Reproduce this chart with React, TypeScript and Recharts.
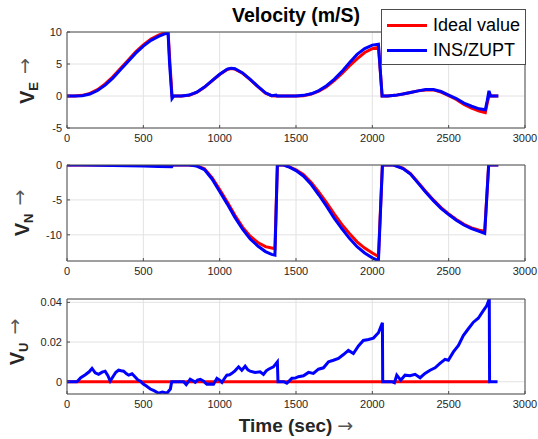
import { CartesianGrid, Legend, Line, LineChart, XAxis, YAxis } from "recharts";

const xTicks = [0, 500, 1000, 1500, 2000, 2500, 3000];
const seriesNames = ["Ideal value", "INS/ZUPT"];
const seriesColors = ["#ff0000", "#0000ff"];

// V_E (m/s)
const veTime = [
  0, 50, 100, 150, 200, 250, 300, 350, 400, 450, 500, 550, 600, 640, 662, 672, 688, 700,
  750, 800, 850, 900, 950, 1000, 1050, 1075, 1100, 1150, 1200, 1250, 1300, 1340, 1370, 1376, 1382,
  1450, 1500, 1550, 1600, 1650, 1700, 1750, 1800, 1850, 1900, 1950, 2000, 2040, 2052, 2064,
  2100, 2150, 2200, 2250, 2300, 2350, 2400, 2450, 2500, 2550, 2600, 2650, 2700, 2740, 2752, 2764, 2775, 2825,
];
const veIdeal = [
  0, 0, 0.1, 0.4, 1.0, 1.9, 3.0, 4.3, 5.6, 6.9, 8.0, 8.9, 9.5, 9.9, 10.1, 6.0, 0, 0,
  0, 0.12, 0.55, 1.35, 2.35, 3.35, 4.15, 4.3, 4.2, 3.55, 2.55, 1.45, 0.45, 0.05, 0, 0, 0,
  0, 0, 0.05, 0.3, 0.75, 1.45, 2.4, 3.5, 4.7, 5.8, 6.8, 7.4, 7.6, 4.0, 0,
  0, 0.1, 0.3, 0.55, 0.8, 0.95, 0.95, 0.6, 0.05, -0.55, -1.3, -1.9, -2.35, -2.6, -1.2, 0, 0, 0,
];
const veIns = [
  0, 0, 0.05, 0.3, 0.85, 1.7, 2.8, 4.1, 5.4, 6.7, 7.8, 8.7, 9.3, 9.7, 9.85, 5.0, -0.4, 0,
  0, 0.15, 0.6, 1.4, 2.4, 3.4, 4.2, 4.35, 4.25, 3.6, 2.6, 1.5, 0.5, 0.05, 0.15, 0, 0,
  0, 0, 0.1, 0.35, 0.85, 1.6, 2.6, 3.8, 5.2, 6.5, 7.4, 7.95, 8.1, 4.0, 0,
  0, 0.1, 0.3, 0.55, 0.8, 1.0, 1.0, 0.7, 0.15, -0.4, -1.1, -1.6, -2.0, -2.15, -0.8, 0.8, 0, 0,
];

// V_N (m/s)
const vnTime = [
  0, 100, 200, 300, 400, 500, 600, 686, 692, 750, 800, 850, 900, 950, 1000, 1050, 1100, 1150,
  1200, 1250, 1300, 1340, 1362, 1378, 1420, 1450, 1500, 1550, 1600, 1650, 1700, 1750, 1800,
  1850, 1900, 1950, 2000, 2040, 2066, 2140, 2200, 2250, 2300, 2350, 2400, 2450, 2500, 2550,
  2600, 2650, 2700, 2736, 2762, 2825,
];
const vnIdeal = [
  0, 0, 0, 0, 0, 0, 0, 0, 0, 0, 0, -0.1, -0.55, -1.8, -3.5, -5.3, -7.2, -8.9,
  -10.2, -11.1, -11.7, -11.9, -12.0, 0, 0, -0.2, -0.7, -1.4, -2.5, -3.9, -5.4, -7.0, -8.5,
  -9.8, -11.0, -11.9, -12.6, -13.1, 0, 0, -0.45, -1.25, -2.5, -3.8, -5.0, -6.1, -7.0, -7.8,
  -8.5, -9.0, -9.35, -9.5, 0, 0,
];
const vnIns = [
  0, 0, -0.05, -0.08, -0.1, -0.15, -0.2, -0.25, 0, 0, 0, -0.15, -0.65, -2.0, -3.8, -5.6, -7.5, -9.2,
  -10.6, -11.6, -12.4, -12.8, -12.9, 0, 0, -0.25, -0.8, -1.6, -2.8, -4.3, -5.9, -7.6, -9.1,
  -10.5, -11.7, -12.6, -13.3, -13.7, 0, 0, -0.5, -1.3, -2.6, -3.9, -5.1, -6.2, -7.1, -7.9,
  -8.6, -9.1, -9.5, -9.8, 0, 0,
];

// V_U (m/s)
const vuTime = [
  0, 65, 90, 120, 145, 164, 185, 207, 230, 250, 268, 283, 305, 320, 338, 355, 371, 390, 404, 426,
  445, 465, 480, 500, 520, 546, 570, 600, 625, 655, 677, 686, 764, 781, 807, 825, 840, 855, 873,
  895, 916, 940, 960, 982, 1000, 1015, 1030, 1047, 1065, 1080, 1100, 1124, 1145, 1167, 1185,
  1200, 1232, 1265, 1287, 1305, 1320, 1352, 1378, 1382, 1420, 1440, 1473, 1495, 1516, 1549,
  1582, 1614, 1647, 1680, 1713, 1745, 1778, 1811, 1843, 1876, 1909, 1941, 1975, 2007, 2040,
  2066, 2068, 2127, 2145, 2160, 2186, 2214, 2247, 2280, 2313, 2345, 2378, 2411, 2443, 2476,
  2498, 2531, 2564, 2596, 2629, 2662, 2694, 2727, 2749, 2766, 2768, 2820,
];
const vuIns = [
  0, 0, 0.002, 0.0035, 0.005, 0.0067, 0.0045, 0.0037, 0.0048, 0.0053, 0.003, 0.0003, 0.003,
  0.0048, 0.0058, 0.0055, 0.0053, 0.004, 0.0033, 0.004, 0.0025, 0.0008, 0.0003, -0.0012,
  -0.0022, -0.0037, -0.0045, -0.0058, -0.0052, -0.0058, -0.0037, 0, 0, -0.0015, 0.0013,
  0.0005, -0.0003, 0.0008, 0.0012, 0.0002, -0.0013, -0.0012, -0.0013, 0.0017, 0.0008,
  -0.0003, 0.0015, 0.0033, 0.0035, 0.0042, 0.0055, 0.0075, 0.0058, 0.0078, 0.006, 0.0053,
  0.0047, 0.005, 0.0037, 0.0055, 0.0063, 0.0075, 0.01, 0, 0, -0.0008, 0.0017, 0.0018,
  0.0025, 0.003, 0.0047, 0.0042, 0.0063, 0.007, 0.01, 0.0108, 0.0117, 0.0137, 0.0158,
  0.0142, 0.018, 0.0208, 0.0213, 0.022, 0.0247, 0.0297, 0, 0, -0.0005, 0.0033, 0.0008,
  0.0033, 0.003, 0.0037, 0.002, 0.0042, 0.0058, 0.007, 0.0092, 0.0113, 0.0108, 0.015,
  0.0183, 0.0233, 0.0267, 0.03, 0.032, 0.0358, 0.0383, 0.0417, 0, 0,
];
const vuIdealTime = [0, 2768];
const vuIdeal = [0, 0];

const font = "'Liberation Sans', Arial, Helvetica, sans-serif";
const arrowFont = "'DejaVu Sans', sans-serif";
const axisColor = "#4d4d4d";

function zip(ts: number[], vs: number[]) {
  return ts.map((t, i) => ({ t, v: vs[i] }));
}

type PanelProps = {
  top: number;
  height: number;
  marginTop: number;
  marginBottom: number;
  yDomain: [number, number];
  yTicks: number[];
  ideal: { t: number; v: number }[];
  ins: { t: number; v: number }[];
  legend?: boolean;
};

function LegendBox({ payload }: any) {
  const items = [...(payload ?? [])].sort(
    (a: any, b: any) => seriesNames.indexOf(a.value) - seriesNames.indexOf(b.value)
  );
  return (
    <div
      style={{
        width: 145,
        height: 56,
        boxSizing: "border-box",
        border: `1px solid ${axisColor}`,
        background: "#fff",
        fontFamily: font,
        fontSize: 18,
        color: "#000",
        paddingTop: 3,
      }}
    >
      {items.map((p: any) => (
        <div key={p.value} style={{ display: "flex", alignItems: "center", height: 25 }}>
          <div style={{ width: 40, height: 3, background: p.color, marginLeft: 5, marginRight: 6 }} />
          <span>{p.value}</span>
        </div>
      ))}
    </div>
  );
}

function Panel({ top, height, marginTop, marginBottom, yDomain, yTicks, ideal, ins, legend }: PanelProps) {
  const tick = { fill: "#262626", fontSize: 11, fontFamily: font };
  return (
    <div style={{ position: "absolute", left: 0, top }}>
      <LineChart width={538} height={height} margin={{ top: marginTop, right: 12, bottom: marginBottom, left: 27 }}>
        <CartesianGrid stroke="#e2e2e2" />
        <XAxis
          dataKey="t"
          type="number"
          domain={[0, 3000]}
          ticks={xTicks}
          interval={0}
          height={20}
          tick={tick}
          tickSize={-3}
          tickMargin={9}
          tickLine={{ stroke: axisColor }}
          axisLine={{ stroke: axisColor }}
          allowDataOverflow
        />
        <XAxis
          xAxisId="top"
          orientation="top"
          dataKey="t"
          type="number"
          domain={[0, 3000]}
          ticks={xTicks}
          height={1}
          tick={false}
          tickSize={-3}
          tickLine={{ stroke: axisColor }}
          axisLine={{ stroke: axisColor }}
        />
        <YAxis
          type="number"
          domain={yDomain}
          ticks={yTicks}
          interval={0}
          width={40}
          tick={tick}
          tickSize={-3}
          tickMargin={8}
          tickLine={{ stroke: axisColor }}
          axisLine={{ stroke: axisColor }}
          allowDataOverflow
        />
        <YAxis
          yAxisId="right"
          orientation="right"
          type="number"
          domain={yDomain}
          ticks={yTicks}
          width={1}
          tick={false}
          tickSize={-3}
          tickLine={{ stroke: axisColor }}
          axisLine={{ stroke: axisColor }}
        />
        <Line
          data={ideal}
          dataKey="v"
          name={seriesNames[0]}
          stroke={seriesColors[0]}
          strokeWidth={3}
          dot={false}
          type="linear"
          isAnimationActive={false}
        />
        <Line
          data={ins}
          dataKey="v"
          name={seriesNames[1]}
          stroke={seriesColors[1]}
          strokeWidth={3}
          dot={false}
          type="linear"
          isAnimationActive={false}
        />
        {legend && (
          <Legend
            verticalAlign="middle"
            content={(props: any) => <LegendBox payload={props.payload} />}
            wrapperStyle={{ position: "absolute", top: 9, left: 381, width: 145, height: 56 }}
          />
        )}
      </LineChart>
    </div>
  );
}

function YLabel({ x, y, sub }: { x: number; y: number; sub: string }) {
  return (
    <text
      x={x}
      y={y}
      transform={`rotate(-90 ${x} ${y})`}
      textAnchor="middle"
      fontFamily={font}
      fill="#262626"
    >
      <tspan fontSize={20} fontWeight="bold">V</tspan>
      <tspan fontSize={13} fontWeight="bold" dy={4}>{sub}</tspan>
      <tspan fontSize={19} fontFamily={arrowFont} dy={-7} dx={8} fill="#555">→</tspan>
    </text>
  );
}

export default function App() {
  return (
    <div style={{ position: "absolute", left: 0, top: 0, width: 538, height: 439, background: "#fff" }}>
      <Panel
        top={0}
        height={150}
        marginTop={31}
        marginBottom={2}
        yDomain={[-5, 10]}
        yTicks={[-5, 0, 5, 10]}
        ideal={zip(veTime, veIdeal)}
        ins={zip(veTime, veIns)}
        legend
      />
      <Panel
        top={150}
        height={140}
        marginTop={14}
        marginBottom={9}
        yDomain={[-13.75, 0]}
        yTicks={[-10, -5, 0]}
        ideal={zip(vnTime, vnIdeal)}
        ins={zip(vnTime, vnIns)}
      />
      <Panel
        top={285}
        height={135}
        marginTop={13}
        marginBottom={6}
        yDomain={[-0.0062, 0.0417]}
        yTicks={[0, 0.02, 0.04]}
        ideal={zip(vuIdealTime, vuIdeal)}
        ins={zip(vuTime, vuIns)}
      />
      <svg
        width={538}
        height={439}
        style={{ position: "absolute", left: 0, top: 0, pointerEvents: "none" }}
      >
        <text x={296} y={22} textAnchor="middle" fontFamily={font} fontSize={19.5} fontWeight="bold" fill="#000">
          Velocity (m/S)
        </text>
        <YLabel x={34} y={81} sub="E" />
        <YLabel x={29} y={213} sub="N" />
        <YLabel x={24} y={342} sub="U" />
        <text x={296} y={432} textAnchor="middle" fontFamily={font} fill="#262626">
          <tspan fontSize={19} fontWeight="bold">Time (sec)</tspan>
          <tspan fontSize={19} fontFamily={arrowFont} dx={5} fill="#555">→</tspan>
        </text>
      </svg>
    </div>
  );
}
